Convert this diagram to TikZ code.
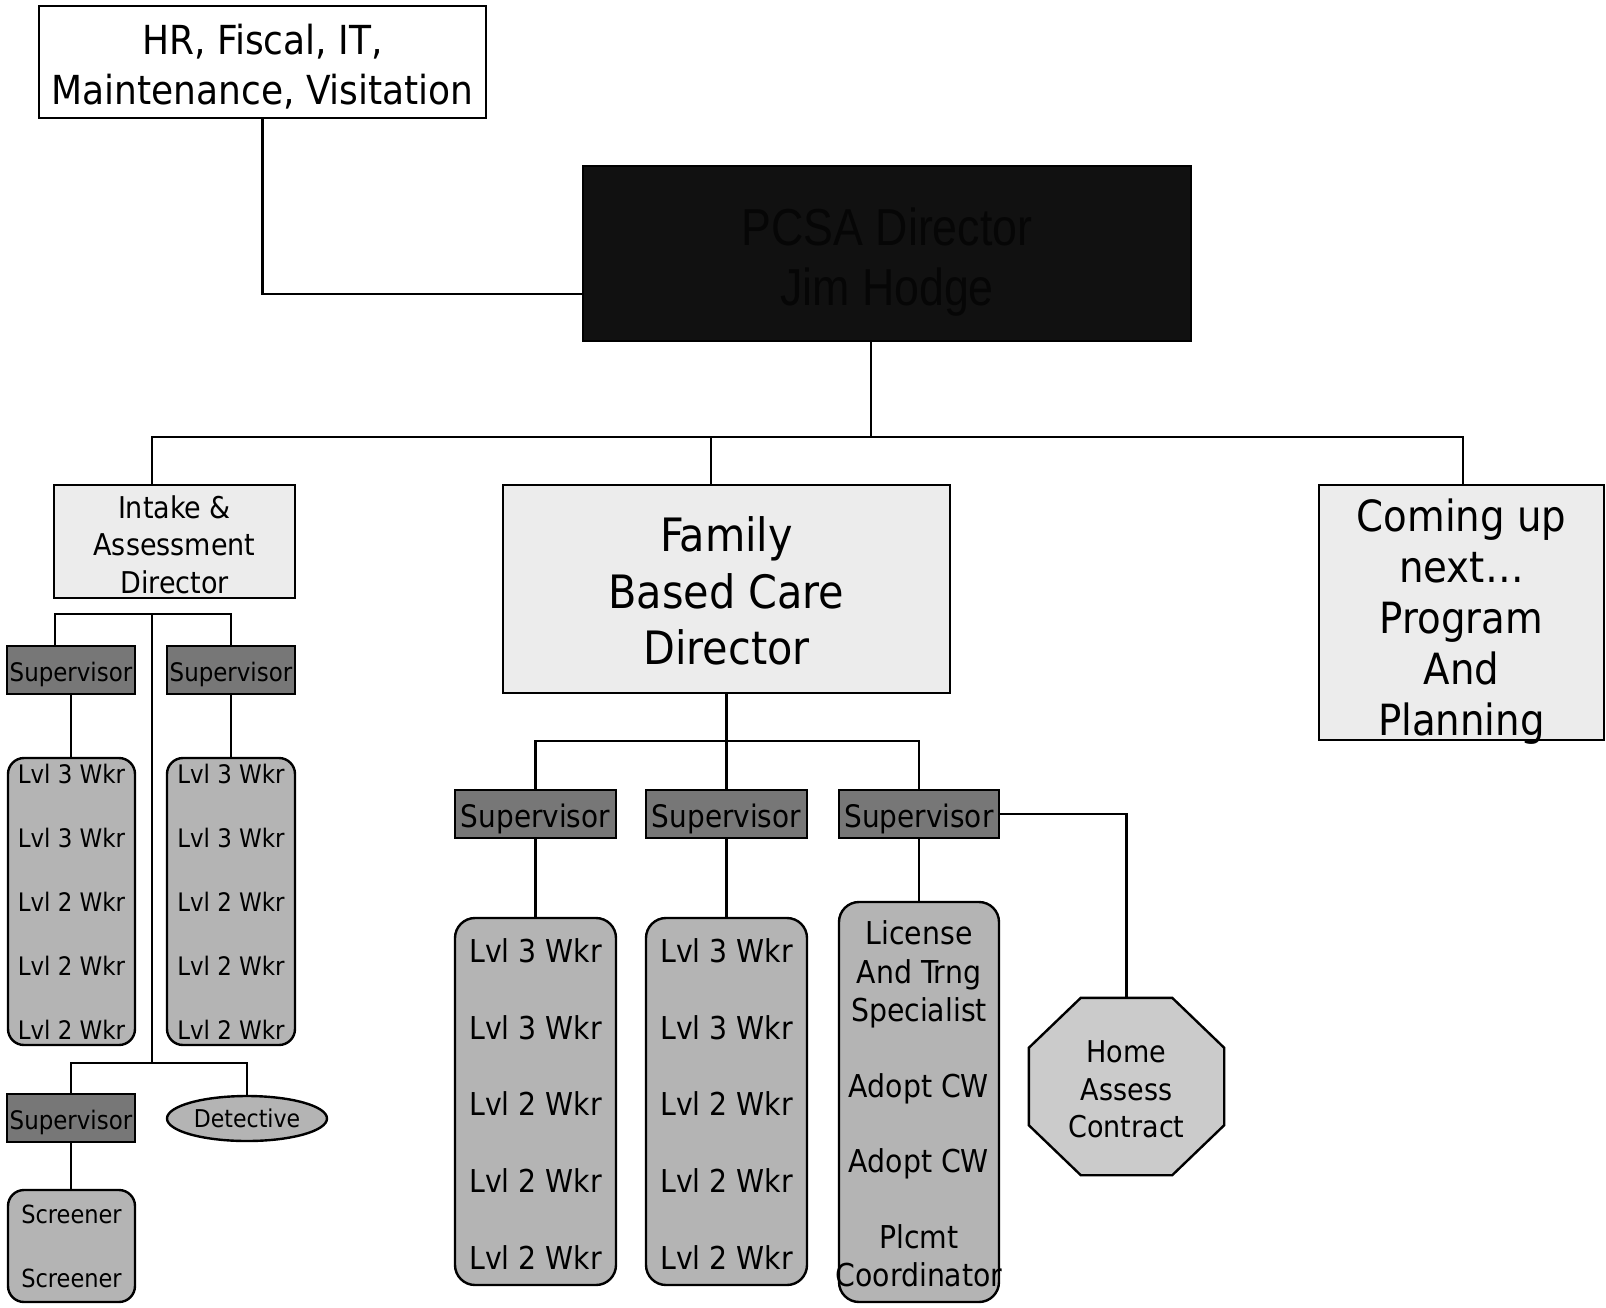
\documentclass[tikz,border=0pt]{standalone}
\usepackage{fontspec}
\setmainfont{DejaVu Sans Condensed}
\newfontfamily\narrowfont{Liberation Sans}[FakeStretch=0.86]
\usetikzlibrary{shapes.geometric,calc}

\definecolor{panel}{HTML}{ECECEC}
\definecolor{supfill}{HTML}{777777}
\definecolor{wkfill}{HTML}{B4B4B4}
\definecolor{octfill}{HTML}{CBCBCB}
\definecolor{chief}{HTML}{111111}
\definecolor{chieftext}{HTML}{060606}

\newcommand\fsz[2]{\fontsize{#1pt}{#2pt}\selectfont}

\begin{document}
\begin{tikzpicture}[x=1pt,y=-1pt,line width=2.4pt,
  base/.style={draw=black,rectangle,inner sep=0pt,align=center},
  plainbox/.style={base,fill=white},
  chiefbox/.style={base,fill=chief},
  headbox/.style={base,fill=panel},
  supbox/.style={base,fill=supfill},
  crew/.style={base,fill=wkfill,rounded corners=16pt},
  oval/.style={draw=black,ellipse,fill=wkfill,inner sep=0pt,align=center},
  caption/.style={inner sep=0pt,align=center},
]
\useasboundingbox (0,0) rectangle (1606,1307);

% ---- top level ----
\node[plainbox,minimum width=447pt,minimum height=112pt] (hr) at (262.5,62) {};
\node[caption,font=\fsz{40}{50}] (hr-t) at ($(hr)+(0,5)$)
  {HR, Fiscal, IT,\\Maintenance, Visitation};
\node[chiefbox,minimum width=608pt,minimum height=175pt] (pcsa) at (887,253.5) {};
\node[caption,text=chieftext,font={\narrowfont\fsz{52}{60}}] (pcsa-t) at ($(pcsa)+(0,9)$)
  {PCSA Director\\Jim Hodge};

% ---- directors ----
\node[headbox,minimum width=241pt,minimum height=113pt] (intake) at (174.5,541.5) {};
\node[caption,font=\fsz{30}{37.5}] (intake-t) at ($(intake)+(0,3)$)
  {Intake \&\\Assessment\\Director};
\node[headbox,minimum width=447pt,minimum height=208pt] (family) at (726.5,589) {};
\node[caption,font=\fsz{46}{56.5}] (family-t) at ($(family)+(0,2)$)
  {Family\\Based Care\\Director};
\node[headbox,minimum width=285pt,minimum height=255pt] (coming) at (1461.5,612.5) {};
\node[caption,font=\fsz{43}{51}] (coming-t) at ($(coming)+(0,9)$)
  {Coming up\\next…\\Program\\And\\Planning};

% ---- intake & assessment unit ----
\node[supbox,minimum width=128pt,minimum height=48pt] (supA) at (71,670) {};
\node[caption,font=\fsz{25.5}{30}] (supA-t) at ($(supA)+(0,4)$) {Supervisor};
\node[supbox,minimum width=128pt,minimum height=48pt] (supB) at (231,670) {};
\node[caption,font=\fsz{25.5}{30}] (supB-t) at ($(supB)+(0,4)$) {Supervisor};
\node[crew,minimum width=127pt,minimum height=287pt,font=\fsz{25.5}{64}]
  (wkA) at (71.5,901.5) {Lvl 3 Wkr\\Lvl 3 Wkr\\Lvl 2 Wkr\\Lvl 2 Wkr\\Lvl 2 Wkr};
\node[crew,minimum width=128pt,minimum height=287pt,font=\fsz{25.5}{64}]
  (wkB) at (231,901.5) {Lvl 3 Wkr\\Lvl 3 Wkr\\Lvl 2 Wkr\\Lvl 2 Wkr\\Lvl 2 Wkr};
\node[supbox,minimum width=128pt,minimum height=48pt] (supC) at (71,1118) {};
\node[caption,font=\fsz{25.5}{30}] (supC-t) at ($(supC)+(0,4)$) {Supervisor};
\node[oval,minimum width=160pt,minimum height=45pt,font=\fsz{24.5}{30}]
  (det) at (247,1118.5) {Detective};
\node[crew,minimum width=127pt,minimum height=112pt,font=\fsz{25}{64}]
  (scr) at (71.5,1246) {Screener\\Screener};

% ---- family based care unit ----
\node[supbox,minimum width=161pt,minimum height=48pt] (supD) at (535.5,814) {};
\node[caption,font=\fsz{31}{36}] (supD-t) at ($(supD)+(0,5)$) {Supervisor};
\node[supbox,minimum width=161pt,minimum height=48pt] (supE) at (726.5,814) {};
\node[caption,font=\fsz{31}{36}] (supE-t) at ($(supE)+(0,5)$) {Supervisor};
\node[supbox,minimum width=160pt,minimum height=48pt] (supF) at (919,814) {};
\node[caption,font=\fsz{31}{36}] (supF-t) at ($(supF)+(0,5)$) {Supervisor};
\node[crew,rounded corners=20pt,minimum width=161pt,minimum height=367pt] (wkD) at (535.5,1101.5) {};
\node[caption,font=\fsz{31.5}{76.75}] (wkD-t) at ($(wkD)+(0,2.5)$)
  {Lvl 3 Wkr\\Lvl 3 Wkr\\Lvl 2 Wkr\\Lvl 2 Wkr\\Lvl 2 Wkr};
\node[crew,rounded corners=20pt,minimum width=161pt,minimum height=367pt] (wkE) at (726.5,1101.5) {};
\node[caption,font=\fsz{31.5}{76.75}] (wkE-t) at ($(wkE)+(0,2.5)$)
  {Lvl 3 Wkr\\Lvl 3 Wkr\\Lvl 2 Wkr\\Lvl 2 Wkr\\Lvl 2 Wkr};
\node[crew,rounded corners=20pt,minimum width=160pt,minimum height=400pt] (wkF) at (919,1102) {};
\node[caption,font=\fsz{31.5}{38.5}] (wkF-t) at ($(wkF)+(0,2)$)
  {License\\And Trng\\Specialist\\[37pt]Adopt CW\\[37pt]Adopt CW\\[37pt]Plcmt\\Coordinator};

% home assessment contractor: octagon drawn around its frame node
\node[inner sep=0pt,minimum width=193pt,minimum height=175pt] (oct) at (1126.5,1086.5) {};
\filldraw[fill=octfill]
  ($(oct.north west)+(52,0)$) -- ($(oct.north east)+(-52,0)$) --
  ($(oct.north east)+(0,50)$) -- ($(oct.south east)+(0,-50)$) --
  ($(oct.south east)+(-52,0)$) -- ($(oct.south west)+(52,0)$) --
  ($(oct.south west)+(0,-50)$) -- ($(oct.north west)+(0,50)$) -- cycle;
\node[caption,font=\fsz{30}{37.5}] (oct-t) at ($(oct)+(0,3)$) {Home\\Assess\\Contract};

% ---- connectors ----
\coordinate (hrbend) at (262.5,294);
\draw (hr.south) -- (hrbend) -- (hrbend -| pcsa.west);

\coordinate (topbus) at (871,437);
\coordinate (busL) at (152,437);
\coordinate (busM) at (711,437);
\coordinate (busR) at (1463,437);
\draw (topbus |- pcsa.south) -- (topbus);
\draw (busL |- intake.north) -- (busL) -- (busR) -- (busR |- coming.north);
\draw (busM) -- (busM |- family.north);

\coordinate (iaL) at (55,614);
\coordinate (iaM) at (152,614);
\coordinate (iaR) at (231,614);
\coordinate (ibL) at (71,1063);
\coordinate (ibM) at (152,1063);
\coordinate (ibR) at (247,1063);
\draw (iaL |- supA.north) -- (iaL) -- (iaR) -- (iaR |- supB.north);
\draw (iaM) -- (ibM);
\draw (ibL |- supC.north) -- (ibL) -- (ibR) -- (ibR |- det.north);
\draw (supA.south) -- (supA.south |- wkA.north);
\draw (supB.south) -- (supB.south |- wkB.north);
\draw (supC.south) -- (supC.south |- scr.north);

\coordinate (fb) at (726.5,741);
\draw (family.south) -- (fb);
\draw (supD.north) |- (fb) -| (supF.north);
\draw (fb) -- (supE.north);
\draw (supD.south) -- (wkD.north);
\draw (supE.south) -- (wkE.north);
\draw (supF.south) -- (wkF.north);
\draw (supF.east) -| (oct.north);
\end{tikzpicture}
\end{document}
